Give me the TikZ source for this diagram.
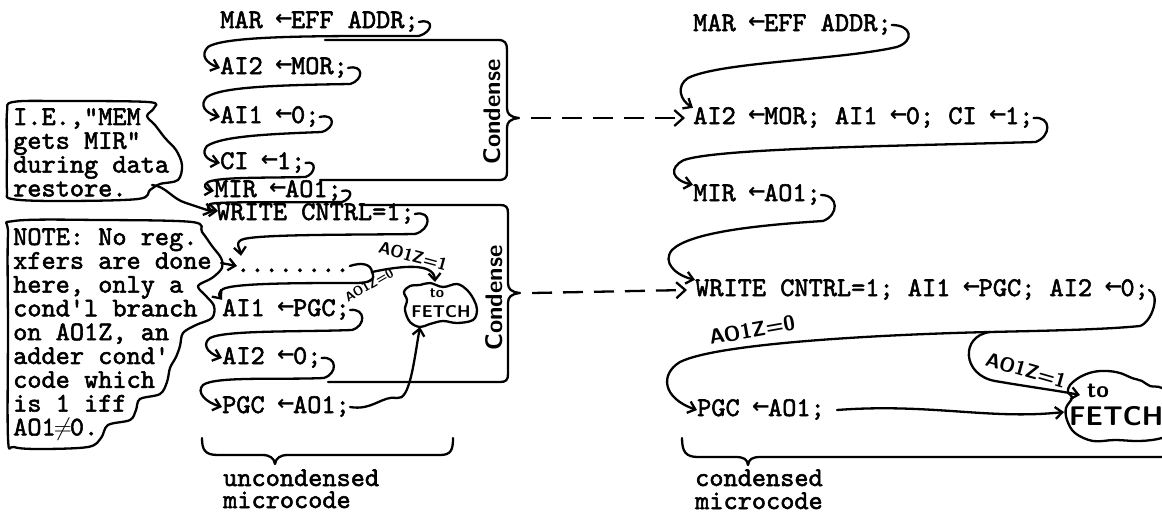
\documentclass[tikz,border=0pt]{standalone}
\usepackage{fontspec}
\usepackage{graphicx}
\newfontfamily\dejavu{DejaVu Sans}
\newfontfamily\tw{lmmono10-regular.otf}[FakeBold=2]
\usetikzlibrary{arrows.meta,calc}
\newcommand\lar{\makebox[0.525em][c]{\raisebox{0.08em}{\scalebox{0.78}{\dejavu\bfseries ←}}}}
\newcommand\neqc{\makebox[0.525em][c]{$\neq$}}
\tikzset{
  tt/.style={font=\fontsize{27}{24}\selectfont\tw, inner sep=0pt, anchor=west, text height=16pt, text depth=4pt},
  boxtxt/.style={font=\fontsize{27}{23.8}\selectfont\tw, inner sep=0pt, anchor=north west, align=left},
  conn/.style={line width=2.3pt, line cap=round, line join=round, -{Straight Barb[length=7pt,width=12pt]}},
  plain/.style={line width=2.3pt, line cap=round, line join=round},
  dasharrow/.style={line width=2.3pt, dash pattern=on 20pt off 11pt, -{Straight Barb[length=9pt,width=16pt]}},
  hand/.style={inner sep=0pt},
}
\newcommand\hf[1]{\fontsize{#1}{#1}\selectfont\sffamily\bfseries}
\begin{document}
\begin{tikzpicture}[x=1pt,y=-1pt]
\useasboundingbox (0,0) rectangle (1162,514);
\fill[white] (0,0) rectangle (1162,514);

% ---------- left column ----------
\node[tt] (l1) at (220,22) {MAR \lar EFF ADDR;};
\node[tt] (l2) at (220,68) {AI2 \lar MOR;};
\node[tt] (l3) at (220,117) {AI1 \lar 0;};
\node[tt] (l4) at (220,163) {CI \lar 1;};
\node[tt] (l5) at (214,191) {MIR \lar AO1;};
\node[tt] (l6) at (216,214) {WRITE CNTRL=1;};
\node[tt] (l7) at (236,266) {........};
\node[tt] (l8) at (222,310) {AI1 \lar PGC;};
\node[tt] (l9) at (222,358) {AI2 \lar 0;};
\node[tt] (l10) at (222,407) {PGC \lar AO1;};

% ---------- right column ----------
\node[tt] (r1) at (693,25) {MAR \lar EFF ADDR;};
\node[tt] (r2) at (693,118) {AI2 \lar MOR; AI1 \lar 0; CI \lar 1;};
\node[tt] (r3) at (693,195) {MIR \lar AO1;};
\node[tt] (r4) at (695,290) {WRITE CNTRL=1; AI1 \lar PGC; AI2 \lar 0;};
\node[tt] (r5) at (697,410) {PGC \lar AO1;};

% ---------- note boxes ----------
\node[boxtxt] (ie) at (13,108) {I.E.,"MEM\\gets MIR"\\during data\\restore.};
\node[boxtxt] (note) at (13,228) {NOTE: No reg.\\xfers are done\\here, only a\\cond'l branch\\on AO1Z, an\\adder cond'\\code which\\is 1 iff\\AO1\neqc0.};

\draw[plain] plot[smooth cycle, tension=0.55] coordinates {(7,112) (13,102) (60,101) (148,102) (154,108) (147,116) (155,125) (165,138) (176,150) (182,165) (178,180) (160,184) (150,190) (138,199) (60,201) (12,199) (7,190) (7,150)};
\draw[plain] plot[smooth cycle, tension=0.55] coordinates {(8,235) (14,221) (100,220) (192,222) (202,232) (212,246) (221,258) (222,268) (212,278) (198,286) (206,296) (214,306) (212,318) (196,325) (183,333) (180,346) (176,357) (170,368) (167,382) (160,394) (140,399) (136,410) (130,420) (108,425) (101,438) (88,447) (40,449) (14,447) (8,438) (8,330)};

\coordinate (it) at (152,185);
\coordinate (nt) at (221,263);
\draw[conn] (it) .. controls (166,186) and (172,199) .. (186,203) -- ($(l6.west)+(-3,-2)$);
\draw[conn] (nt) -- ($(l7.west)+(1,0)$);

% ---------- condense boxes ----------
\draw[plain] (325,40) -- (498,40) .. controls (505,40) and (507,43) .. (507,50) -- (507,108)
  .. controls (507,114) and (510,117) .. (519,118) .. controls (510,119) and (507,122) .. (507,128)
  -- (507,172) .. controls (507,178) and (505,180) .. (498,180) -- (320,180);
\draw[plain] (360,205) -- (500,205) .. controls (506,205) and (508,207) .. (508,213) -- (508,283)
  .. controls (508,289) and (511,292) .. (520,293) .. controls (511,294) and (508,297) .. (508,303)
  -- (508,374) .. controls (508,380) and (506,382) .. (500,382) -- (328,382);
\coordinate (t1) at (521,118);
\coordinate (t2) at (522,293);
\node[hand, font=\hf{24}, rotate=90] (c1) at (492,112) {Condense};
\node[hand, font=\hf{24}, rotate=90] (c2) at (494,298) {Condense};
\draw[dasharrow] ($(t1)+(10,0)$) -- ($(r2.west)+(-8,0)$);
\draw[dasharrow] ($(t2)+(10,0)$) -- ($(r4.west)+(-8,0)$);

% ---------- left loops ----------
\draw[conn] (l1.east) .. controls +(16,-4) and +(14,-4) .. ($(l1.east)+(0,14)$)
  .. controls (330,36) and (225,35) .. (208,47) .. controls (200,55) and (206,63) .. (l2.west);
\draw[conn] (l2.east) .. controls +(16,-4) and +(14,-4) .. ($(l2.east)+(2,16)$)
  .. controls (290,85) and (222,86) .. (207,97) .. controls (199,105) and (205,113) .. (l3.west);
\draw[conn] (l3.east) .. controls +(16,-4) and +(14,-4) .. ($(l3.east)+(2,15)$)
  .. controls (270,134) and (222,136) .. (207,146) .. controls (201,153) and (206,160) .. (l4.west);
\draw[conn] (l4.east) .. controls +(12,-3) and +(10,-3) .. ($(l4.east)+(0,14)$)
  .. controls (260,178) and (220,177) .. (208,182) .. controls (203,185) and (204,189) .. (l5.west);
\draw[conn] (l5.east) .. controls +(12,-3) and +(10,-3) .. ($(l5.east)+(0,11)$)
  .. controls (300,203) and (220,201) .. (210,204) .. controls (206,206) and (207,210) .. ($(l6.west)+(2,-3)$);
\draw[conn] (l6.east) .. controls +(18,-4) and +(16,-4) .. ($(l6.east)+(0,20)$)
  .. controls (350,235) and (252,234) .. (241,240) .. controls (235,244) and (240,248) .. ($(l7.north west)+(5,0)$);
\coordinate (bl) at (372,272);
\draw[plain] (l7.east) .. controls (362,262) and (371,264) .. (bl);
\draw[conn] (bl) .. controls (376,280) and (370,283) .. (355,283)
  .. controls (300,283) and (235,283) .. (223,289) .. controls (218,292) and (219,296) .. (l8.north west);
\draw[conn] (l8.east) .. controls +(16,-2) and +(14,-4) .. ($(l8.east)+(2,20)$)
  .. controls (300,332) and (225,330) .. (210,338) .. controls (203,343) and (205,352) .. (l9.west);
\draw[conn] (l9.east) .. controls +(16,-2) and +(14,-4) .. ($(l9.east)+(2,20)$)
  .. controls (280,380) and (215,376) .. (203,385) .. controls (196,392) and (205,402) .. (l10.west);

% left fetch blob
\coordinate (fl) at (440,303);
\draw[plain] plot[smooth cycle, tension=0.6] coordinates {(404,292) (410,286) (420,285) (430,283) (443,287) (457,284) (467,290) (474,300) (477,310) (473,320) (457,323) (443,321) (430,324) (420,327) (410,322) (405,310) (407,300)};
\node[hand, font=\hf{15}] (flto) at (437,293) {to};
\node[hand, font=\hf{17}] (flf) at (441,312) {FETCH};
\draw[conn] (bl) .. controls (400,266) and (434,262) .. ($(fl)+(-5,-21)$);
\draw[conn] (l10.east) .. controls (372,411) and (383,395) .. (397,398) .. controls (410,401) and (414,360) .. ($(fl)+(-20,24)$);
\node[hand, font=\hf{17}, rotate=-15] (lz1) at (413,256) {AO1Z=1};
\node[hand, font=\hf{13}, rotate=30] (lz0) at (369,285) {AO1Z=0};

% ---------- right loops ----------
\draw[conn] (r1.east) .. controls +(20,0) and +(18,-6) .. ($(r1.east)+(5,22)$)
  .. controls (840,60) and (720,62) .. (688,78) .. controls (676,86) and (680,100) .. (r2.north west);
\draw[conn] (r2.east) .. controls +(18,-2) and +(16,-6) .. ($(r2.east)+(2,24)$)
  .. controls (900,146) and (720,148) .. (684,160) .. controls (668,168) and (672,180) .. (r3.north west);
\draw[conn] (r3.east) .. controls +(18,0) and +(16,-6) .. ($(r3.east)+(2,26)$)
  .. controls (760,225) and (690,232) .. (672,250) .. controls (662,262) and (675,275) .. (r4.north west);
\coordinate (rb) at (990,332);
\draw[conn] (r4.east) .. controls +(12,4) and +(12,-4) .. (1140,326) .. controls (1100,330) and (1030,331) .. (rb)
  .. controls (900,334) and (720,342) .. (680,362) .. controls (660,374) and (662,398) .. (r5.west);

% right fetch blob
\coordinate (fr) at (1066,406);
\draw[plain] plot[smooth cycle, tension=0.6] coordinates {(1070,385) (1080,377) (1093,372) (1107,371) (1120,373) (1132,378) (1142,381) (1150,386) (1162,388) (1178,400) (1178,430) (1162,438) (1140,441) (1115,440) (1093,441) (1075,433) (1067,420) (1066,408) (1072,398) (1068,392)};
\node[hand, font=\hf{23}] (frto) at (1098,391) {to};
\node[hand, font=\hf{27}, anchor=west] (frf) at (1069,416) {FETCH};
\draw[conn] (rb) .. controls (960,336) and (962,375) .. (995,381) .. controls (1030,387) and (1060,391) .. ($(fr)+(14,-11)$);
\draw[conn] ($(r5.east)+(12,0)$) .. controls (930,403) and (990,420) .. ($(fr)+(-2,6)$);
\node[hand, font=\hf{20}, rotate=-16] (rz1) at (1026,370) {AO1Z=1};
\node[hand, font=\hf{21}, rotate=10] (rz0) at (752,330) {AO1Z=0};

% ---------- bottom braces ----------
\draw[plain] (202,438) .. controls (202,450) and (205,455) .. (218,455) -- (262,455)
  .. controls (270,455) and (274,458) .. (275,464) .. controls (276,458) and (280,455) .. (288,455)
  -- (440,455) .. controls (451,455) and (453,450) .. (453,438);
\draw[plain] (682,438) .. controls (682,452) and (686,457) .. (698,457) -- (735,457)
  .. controls (744,457) and (747,459) .. (748,465) .. controls (749,459) and (752,457) .. (761,457) -- (1175,457);
\node[tt] (u1) at (223,480) {uncondensed};
\node[tt] (u2) at (223,502) {microcode};
\node[tt] (c1t) at (695,480) {condensed};
\node[tt] (c2t) at (695,503) {microcode};
\end{tikzpicture}
\end{document}
